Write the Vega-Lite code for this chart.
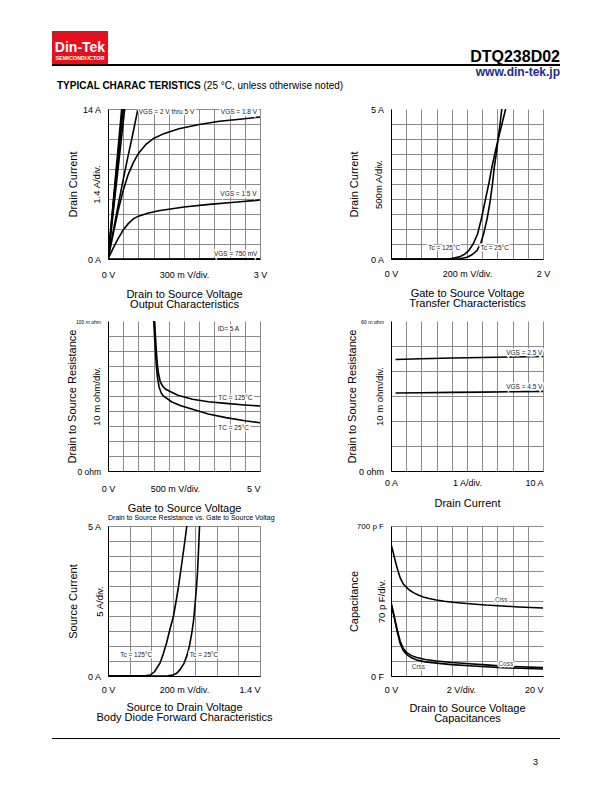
{
  "$schema": "https://vega.github.io/schema/vega-lite/v6.json",
  "background": "white",
  "padding": {"left": 52, "top": 31, "right": 0, "bottom": 0},
  "autosize": {"type": "pad"},
  "config": {
    "font": "Liberation Sans",
    "view": {"stroke": null},
    "axis": {"ticks": false, "tickSize": 0, "labelFont": "Liberation Sans", "labelFontSize": 9, "labelColor": "#000", "labelOverlap": false, "labelFlush": false, "labelPadding": 7.5, "titleFont": "Liberation Sans", "titleFontSize": 11, "titleFontWeight": "normal", "titleColor": "#000", "domainColor": "#000", "domainWidth": 1, "gridColor": "#8c8c8c", "gridWidth": 1, "gridOpacity": 1},
    "axisX": {"titleLineHeight": 10},
    "text": {"font": "Liberation Sans"}
  },
  "datasets": {
    "one": [{}],
    "c1": [
      {"s": "5V", "x": 0, "y": 0}, {"s": "5V", "x": 0.27, "y": 14},
      {"s": "4V", "x": 0, "y": 0}, {"s": "4V", "x": 0.285, "y": 14},
      {"s": "3V", "x": 0, "y": 0}, {"s": "3V", "x": 0.3, "y": 14},
      {"s": "2.5V", "x": 0, "y": 0}, {"s": "2.5V", "x": 0.33, "y": 14},
      {"s": "2V", "x": 0, "y": 0}, {"s": "2V", "x": 0.1, "y": 2.5}, {"s": "2V", "x": 0.2, "y": 5.0}, {"s": "2V", "x": 0.3, "y": 7.4}, {"s": "2V", "x": 0.4, "y": 9.7}, {"s": "2V", "x": 0.5, "y": 11.9}, {"s": "2V", "x": 0.59, "y": 14},
      {"s": "1.8V", "x": 0, "y": 0}, {"s": "1.8V", "x": 0.1, "y": 2.3}, {"s": "1.8V", "x": 0.2, "y": 4.5}, {"s": "1.8V", "x": 0.3, "y": 6.4}, {"s": "1.8V", "x": 0.4, "y": 7.9}, {"s": "1.8V", "x": 0.5, "y": 9.0}, {"s": "1.8V", "x": 0.6, "y": 9.85}, {"s": "1.8V", "x": 0.75, "y": 10.7}, {"s": "1.8V", "x": 0.9, "y": 11.25}, {"s": "1.8V", "x": 1.1, "y": 11.7}, {"s": "1.8V", "x": 1.4, "y": 12.15}, {"s": "1.8V", "x": 1.8, "y": 12.55}, {"s": "1.8V", "x": 2.2, "y": 12.85}, {"s": "1.8V", "x": 2.6, "y": 13.05}, {"s": "1.8V", "x": 3.0, "y": 13.25},
      {"s": "1.5V", "x": 0, "y": 0}, {"s": "1.5V", "x": 0.1, "y": 1.0}, {"s": "1.5V", "x": 0.2, "y": 1.9}, {"s": "1.5V", "x": 0.3, "y": 2.7}, {"s": "1.5V", "x": 0.4, "y": 3.3}, {"s": "1.5V", "x": 0.5, "y": 3.75}, {"s": "1.5V", "x": 0.6, "y": 4.0}, {"s": "1.5V", "x": 0.8, "y": 4.3}, {"s": "1.5V", "x": 1.0, "y": 4.5}, {"s": "1.5V", "x": 1.5, "y": 4.85}, {"s": "1.5V", "x": 2.0, "y": 5.1}, {"s": "1.5V", "x": 2.5, "y": 5.3}, {"s": "1.5V", "x": 3.0, "y": 5.5},
      {"s": "750mV", "x": 0, "y": 0}, {"s": "750mV", "x": 3, "y": 0.03}
    ],
    "c1t": [
      {"t": "VGS = 2 V thru 5 V", "x": 1.155, "y": 13.7},
      {"t": "VGS = 1.8 V", "x": 2.585, "y": 13.7},
      {"t": "VGS = 1.5 V", "x": 2.575, "y": 6.04},
      {"t": "VGS = 750 mV", "x": 2.52, "y": 0.44}
    ],
    "c2": [
      {"s": "125", "x": 0, "y": 0}, {"s": "125", "x": 0.7, "y": 0}, {"s": "125", "x": 0.78, "y": 0.01}, {"s": "125", "x": 0.9, "y": 0.07}, {"s": "125", "x": 0.97, "y": 0.16}, {"s": "125", "x": 1.022, "y": 0.28}, {"s": "125", "x": 1.08, "y": 0.5}, {"s": "125", "x": 1.14, "y": 0.84}, {"s": "125", "x": 1.19, "y": 1.35}, {"s": "125", "x": 1.241, "y": 1.96}, {"s": "125", "x": 1.29, "y": 2.55}, {"s": "125", "x": 1.329, "y": 3.08}, {"s": "125", "x": 1.37, "y": 3.55}, {"s": "125", "x": 1.408, "y": 3.97}, {"s": "125", "x": 1.46, "y": 4.5}, {"s": "125", "x": 1.513, "y": 5.05},
      {"s": "25", "x": 0, "y": 0}, {"s": "25", "x": 0.85, "y": 0}, {"s": "25", "x": 0.91, "y": 0.01}, {"s": "25", "x": 1.0, "y": 0.06}, {"s": "25", "x": 1.06, "y": 0.13}, {"s": "25", "x": 1.132, "y": 0.28}, {"s": "25", "x": 1.18, "y": 0.52}, {"s": "25", "x": 1.219, "y": 0.84}, {"s": "25", "x": 1.265, "y": 1.35}, {"s": "25", "x": 1.307, "y": 1.96}, {"s": "25", "x": 1.335, "y": 2.5}, {"s": "25", "x": 1.36, "y": 3.08}, {"s": "25", "x": 1.385, "y": 3.5}, {"s": "25", "x": 1.408, "y": 3.97}, {"s": "25", "x": 1.435, "y": 4.5}, {"s": "25", "x": 1.46, "y": 5.05}
    ],
    "c2t": [
      {"t": "Tc = 125°C", "x": 0.7, "y": 0.38},
      {"t": "Tc = 25°C", "x": 1.364, "y": 0.38}
    ],
    "c3": [
      {"s": "125", "x": 1.53, "y": 102}, {"s": "125", "x": 1.56, "y": 90}, {"s": "125", "x": 1.59, "y": 80}, {"s": "125", "x": 1.62, "y": 72}, {"s": "125", "x": 1.66, "y": 65}, {"s": "125", "x": 1.72, "y": 59.5}, {"s": "125", "x": 1.8, "y": 56.5}, {"s": "125", "x": 1.9, "y": 54.5}, {"s": "125", "x": 2.01, "y": 53.3}, {"s": "125", "x": 2.3, "y": 50.5}, {"s": "125", "x": 2.78, "y": 47.8}, {"s": "125", "x": 3.3, "y": 46.2}, {"s": "125", "x": 3.88, "y": 45.1}, {"s": "125", "x": 4.5, "y": 44}, {"s": "125", "x": 5, "y": 43.3},
      {"s": "25", "x": 1.5, "y": 102}, {"s": "25", "x": 1.53, "y": 90}, {"s": "25", "x": 1.56, "y": 80}, {"s": "25", "x": 1.59, "y": 70}, {"s": "25", "x": 1.63, "y": 62}, {"s": "25", "x": 1.68, "y": 56}, {"s": "25", "x": 1.75, "y": 52}, {"s": "25", "x": 1.82, "y": 50}, {"s": "25", "x": 1.9, "y": 48.9}, {"s": "25", "x": 2.1, "y": 46}, {"s": "25", "x": 2.4, "y": 43.5}, {"s": "25", "x": 2.78, "y": 41.1}, {"s": "25", "x": 3.3, "y": 38}, {"s": "25", "x": 3.88, "y": 35.6}, {"s": "25", "x": 4.5, "y": 33.5}, {"s": "25", "x": 5, "y": 32.2}
    ],
    "c3t": [
      {"t": "ID= 5 A", "x": 3.96, "y": 94.5},
      {"t": "TC = 125°C", "x": 4.19, "y": 48.9},
      {"t": "TC = 25°C", "x": 4.13, "y": 28.9}
    ],
    "c4": [
      {"s": "2.5", "x": 0.3, "y": 44.6}, {"s": "2.5", "x": 2, "y": 44.9}, {"s": "2.5", "x": 4, "y": 45.2}, {"s": "2.5", "x": 6, "y": 45.4}, {"s": "2.5", "x": 8, "y": 45.6}, {"s": "2.5", "x": 10, "y": 45.8},
      {"s": "4.5", "x": 0.3, "y": 31.2}, {"s": "4.5", "x": 2, "y": 31.3}, {"s": "4.5", "x": 4, "y": 31.45}, {"s": "4.5", "x": 6, "y": 31.55}, {"s": "4.5", "x": 8, "y": 31.7}, {"s": "4.5", "x": 10, "y": 31.85}
    ],
    "c4t": [
      {"t": "VGS = 2.5 V", "x": 8.77, "y": 47.2},
      {"t": "VGS = 4.5 V", "x": 8.77, "y": 33.7}
    ],
    "c5": [
      {"s": "125", "x": 0, "y": 0}, {"s": "125", "x": 0.2, "y": 0.005}, {"s": "125", "x": 0.35, "y": 0.015}, {"s": "125", "x": 0.39, "y": 0.03}, {"s": "125", "x": 0.43, "y": 0.15}, {"s": "125", "x": 0.48, "y": 0.44}, {"s": "125", "x": 0.51, "y": 0.75}, {"s": "125", "x": 0.54, "y": 1.11}, {"s": "125", "x": 0.57, "y": 1.55}, {"s": "125", "x": 0.603, "y": 2.0}, {"s": "125", "x": 0.63, "y": 2.55}, {"s": "125", "x": 0.65, "y": 3.0}, {"s": "125", "x": 0.67, "y": 3.5}, {"s": "125", "x": 0.689, "y": 4.0}, {"s": "125", "x": 0.708, "y": 4.5}, {"s": "125", "x": 0.726, "y": 5.0},
      {"s": "25", "x": 0, "y": 0}, {"s": "25", "x": 0.55, "y": 0.005}, {"s": "25", "x": 0.6, "y": 0.03}, {"s": "25", "x": 0.635, "y": 0.1}, {"s": "25", "x": 0.665, "y": 0.22}, {"s": "25", "x": 0.7, "y": 0.42}, {"s": "25", "x": 0.726, "y": 0.67}, {"s": "25", "x": 0.75, "y": 1.0}, {"s": "25", "x": 0.772, "y": 1.44}, {"s": "25", "x": 0.79, "y": 1.9}, {"s": "25", "x": 0.803, "y": 2.44}, {"s": "25", "x": 0.815, "y": 2.95}, {"s": "25", "x": 0.824, "y": 3.44}, {"s": "25", "x": 0.834, "y": 4.2}, {"s": "25", "x": 0.843, "y": 5.0}
    ],
    "c5t": [
      {"t": "Tc = 125°C", "x": 0.26, "y": 0.69},
      {"t": "Tc = 25°C", "x": 0.885, "y": 0.69}
    ],
    "c6": [
      {"s": "Ciss", "x": 0, "y": 615}, {"s": "Ciss", "x": 0.3, "y": 575}, {"s": "Ciss", "x": 0.56, "y": 537}, {"s": "Ciss", "x": 0.8, "y": 505}, {"s": "Ciss", "x": 1.2, "y": 459}, {"s": "Ciss", "x": 1.6, "y": 430}, {"s": "Ciss", "x": 2.08, "y": 412}, {"s": "Ciss", "x": 2.5, "y": 399}, {"s": "Ciss", "x": 2.95, "y": 389}, {"s": "Ciss", "x": 3.5, "y": 379}, {"s": "Ciss", "x": 4.25, "y": 369}, {"s": "Ciss", "x": 5, "y": 362}, {"s": "Ciss", "x": 5.97, "y": 355}, {"s": "Ciss", "x": 7, "y": 349}, {"s": "Ciss", "x": 8.1, "y": 344}, {"s": "Ciss", "x": 10.3, "y": 337}, {"s": "Ciss", "x": 12.5, "y": 331}, {"s": "Ciss", "x": 14.6, "y": 327}, {"s": "Ciss", "x": 16.8, "y": 322}, {"s": "Ciss", "x": 20, "y": 317},
      {"s": "Coss", "x": 0, "y": 345}, {"s": "Coss", "x": 0.3, "y": 298}, {"s": "Coss", "x": 0.56, "y": 257}, {"s": "Coss", "x": 0.8, "y": 218}, {"s": "Coss", "x": 1.2, "y": 163}, {"s": "Coss", "x": 1.6, "y": 130}, {"s": "Coss", "x": 2.08, "y": 109}, {"s": "Coss", "x": 2.7, "y": 95}, {"s": "Coss", "x": 3.4, "y": 86}, {"s": "Coss", "x": 4.5, "y": 77}, {"s": "Coss", "x": 6, "y": 70}, {"s": "Coss", "x": 8, "y": 63}, {"s": "Coss", "x": 10.3, "y": 57}, {"s": "Coss", "x": 12.5, "y": 52}, {"s": "Coss", "x": 14.6, "y": 47}, {"s": "Coss", "x": 17, "y": 43}, {"s": "Coss", "x": 20, "y": 39},
      {"s": "Crss", "x": 0, "y": 338}, {"s": "Crss", "x": 0.3, "y": 292}, {"s": "Crss", "x": 0.56, "y": 250}, {"s": "Crss", "x": 0.8, "y": 210}, {"s": "Crss", "x": 1.2, "y": 152}, {"s": "Crss", "x": 1.6, "y": 120}, {"s": "Crss", "x": 2.08, "y": 100}, {"s": "Crss", "x": 2.7, "y": 85}, {"s": "Crss", "x": 3.4, "y": 75}, {"s": "Crss", "x": 4.5, "y": 66}, {"s": "Crss", "x": 6, "y": 60}, {"s": "Crss", "x": 8, "y": 53}, {"s": "Crss", "x": 10.3, "y": 48}, {"s": "Crss", "x": 12.5, "y": 43}, {"s": "Crss", "x": 14.6, "y": 39}, {"s": "Crss", "x": 17, "y": 36}, {"s": "Crss", "x": 20, "y": 33}
    ],
    "c6t": [
      {"t": "Ciss", "x": 14.5, "y": 353},
      {"t": "Coss", "x": 15.1, "y": 57},
      {"t": "Crss", "x": 3.6, "y": 42}
    ]
  },
  "columns": 5,
  "spacing": 0,
  "bounds": "flush",
  "align": "each",
  "concat": [
    {"width": 56, "height": 33, "data": {"name": "one"}, "layer": [
      {"mark": {"type": "rect", "fill": "#e60f1e"}, "encoding": {}},
      {"mark": {"type": "text", "text": "Din-Tek", "fontWeight": "bold", "fontSize": 14, "fill": "#ffffff", "align": "center", "baseline": "alphabetic", "dy": 4.2}, "encoding": {}},
      {"mark": {"type": "text", "text": "SEMICONDUCTOR", "fontWeight": "bold", "fontSize": 5.5, "fill": "#ffffff", "align": "center", "baseline": "alphabetic", "dy": 12.5}, "encoding": {}}
    ]},
    {"width": 1, "height": 1, "mark": {"type": "rect", "opacity": 0}, "encoding": {}},
    {"width": 1, "height": 1, "mark": {"type": "rect", "opacity": 0}, "encoding": {}},
    {"width": 1, "height": 1, "mark": {"type": "rect", "opacity": 0}, "encoding": {}},
    {"width": 17, "height": 31, "data": {"name": "one"}, "mark": {"type": "text", "text": "DTQ238D02", "fontWeight": "bold", "fontSize": 16, "fill": "#000", "align": "right", "baseline": "alphabetic"}, "encoding": {"x": {"value": "width"}, "y": {"value": "height"}}},

    {"width": 56, "height": 2, "data": {"name": "one"}, "mark": {"type": "rect", "fill": "#000"}, "encoding": {}},
    {"width": 152, "height": 2, "data": {"name": "one"}, "mark": {"type": "rect", "fill": "#000"}, "encoding": {}},
    {"width": 131, "height": 2, "data": {"name": "one"}, "mark": {"type": "rect", "fill": "#000"}, "encoding": {}},
    {"width": 152, "height": 2, "data": {"name": "one"}, "mark": {"type": "rect", "fill": "#000"}, "encoding": {}},
    {"width": 17, "height": 2, "data": {"name": "one"}, "mark": {"type": "rect", "fill": "#000"}, "encoding": {}},

    {"width": 1, "height": 1, "mark": {"type": "rect", "opacity": 0}, "encoding": {}},
    {"width": 1, "height": 1, "mark": {"type": "rect", "opacity": 0}, "encoding": {}},
    {"width": 1, "height": 1, "mark": {"type": "rect", "opacity": 0}, "encoding": {}},
    {"width": 1, "height": 1, "mark": {"type": "rect", "opacity": 0}, "encoding": {}},
    {"width": 17, "height": 9.5, "data": {"name": "one"}, "mark": {"type": "text", "text": "www.din-tek.jp", "fontWeight": "bold", "fontSize": 12, "fill": "#1b2a8f", "align": "right", "baseline": "alphabetic"}, "encoding": {"x": {"value": "width"}, "y": {"value": "height"}}},

    {"width": 56, "height": 13, "data": {"name": "one"}, "layer": [
      {"mark": {"type": "text", "text": "TYPICAL CHARAC TERISTICS", "fontWeight": "bold", "fontSize": 10, "fill": "#000", "align": "left", "baseline": "alphabetic", "dx": 5}, "encoding": {"x": {"value": 0}, "y": {"value": "height"}}},
      {"mark": {"type": "text", "text": "(25 °C, unless otherwise noted)", "fontSize": 10, "fill": "#000", "align": "left", "baseline": "alphabetic", "dx": 151.5}, "encoding": {"x": {"value": 0}, "y": {"value": "height"}}}
    ]},
    {"width": 1, "height": 32.5, "mark": {"type": "rect", "opacity": 0}, "encoding": {}},
    {"width": 1, "height": 1, "mark": {"type": "rect", "opacity": 0}, "encoding": {}},
    {"width": 1, "height": 1, "mark": {"type": "rect", "opacity": 0}, "encoding": {}},
    {"width": 1, "height": 1, "mark": {"type": "rect", "opacity": 0}, "encoding": {}},

    {"width": 1, "height": 212, "mark": {"type": "rect", "opacity": 0}, "encoding": {}},
    {"width": 152, "height": 150,
      "resolve": {"axis": {"y": "independent"}},
      "encoding": {
        "x": {"field": "x", "type": "quantitative", "scale": {"domain": [0, 3], "nice": false, "zero": false},
          "axis": {"values": [0, 0.3, 0.6, 0.9, 1.2, 1.5, 1.8, 2.1, 2.4, 2.7, 3], "labelExpr": "datum.value === 0 ? '0 V' : datum.value === 1.5 ? '300 m V/div.' : datum.value === 3 ? '3 V' : ''", "labelPadding": 11, "labelOverlap": false, "labelFlush": false, "title": ["Drain to Source Voltage", "Output Characteristics"], "titleY": 29}},
        "y": {"field": "y", "type": "quantitative", "scale": {"domain": [0, 14], "nice": false, "zero": false},
          "axis": {"orient": "left", "values": [0, 1.4, 2.8, 4.2, 5.6, 7, 8.4, 9.8, 11.2, 12.6, 14], "labelExpr": "datum.value === 0 ? '0 A' : datum.value === 14 ? '14 A' : ''", "labelOverlap": false, "labelFlush": false, "title": "Drain Current", "titleX": -30}}
      },
      "layer": [
        {"data": {"name": "c1"}, "mark": {"type": "line", "color": "#000", "strokeWidth": 1.6, "clip": true}, "encoding": {"detail": {"field": "s"}}},
        {"data": {"name": "c1t"}, "mark": {"type": "text", "fontSize": 6.5, "stroke": "#ffffff", "strokeWidth": 3, "fill": "#ffffff"}, "encoding": {"text": {"field": "t"},
          "y": {"field": "y", "type": "quantitative", "scale": {"domain": [0, 14], "nice": false, "zero": false}, "axis": {"orient": "left", "labels": false, "grid": false, "domain": false, "ticks": false, "title": "1.4 A/div.", "titleFontSize": 9.5, "titleX": -6.6}}}},
        {"data": {"name": "c1t"}, "mark": {"type": "text", "fontSize": 6.5, "fill": "#222222"}, "encoding": {"text": {"field": "t"},
          "y": {"field": "y", "type": "quantitative", "scale": {"domain": [0, 14], "nice": false, "zero": false}, "axis": null}}}
      ]
    },
    {"width": 131, "height": 1, "mark": {"type": "rect", "opacity": 0}, "encoding": {}},
    {"width": 152, "height": 150,
      "resolve": {"axis": {"y": "independent"}},
      "encoding": {
        "x": {"field": "x", "type": "quantitative", "scale": {"domain": [0, 2], "nice": false, "zero": false},
          "axis": {"values": [0, 0.2, 0.4, 0.6, 0.8, 1, 1.2, 1.4, 1.6, 1.8, 2], "labelExpr": "datum.value === 0 ? '0 V' : datum.value === 1 ? '200 m V/div.' : datum.value === 2 ? '2 V' : ''", "labelPadding": 10.5, "labelOverlap": false, "labelFlush": false, "title": ["Gate to Source Voltage", "Transfer Characteristics"], "titleY": 28.7}},
        "y": {"field": "y", "type": "quantitative", "scale": {"domain": [0, 5], "nice": false, "zero": false},
          "axis": {"orient": "left", "values": [0, 0.5, 1, 1.5, 2, 2.5, 3, 3.5, 4, 4.5, 5], "labelExpr": "datum.value === 0 ? '0 A' : datum.value === 5 ? '5 A' : ''", "labelOverlap": false, "labelFlush": false, "title": "Drain Current", "titleX": -31.8,
            "gridColor": {"condition": {"test": "datum.value === 5", "value": "transparent"}, "value": "#8c8c8c"}}}
      },
      "layer": [
        {"data": {"name": "c2"}, "mark": {"type": "line", "color": "#000", "strokeWidth": 1.6, "clip": true}, "encoding": {"detail": {"field": "s"}}},
        {"data": {"name": "c2t"}, "mark": {"type": "text", "fontSize": 6.5, "stroke": "#ffffff", "strokeWidth": 3, "fill": "#ffffff"}, "encoding": {"text": {"field": "t"},
          "y": {"field": "y", "type": "quantitative", "scale": {"domain": [0, 5], "nice": false, "zero": false}, "axis": {"orient": "left", "labels": false, "grid": false, "domain": false, "ticks": false, "title": "500m A/div.", "titleFontSize": 9.5, "titleX": -8}}}},
        {"data": {"name": "c2t"}, "mark": {"type": "text", "fontSize": 6.5, "fill": "#222222"}, "encoding": {"text": {"field": "t"},
          "y": {"field": "y", "type": "quantitative", "scale": {"domain": [0, 5], "nice": false, "zero": false}, "axis": null}}}
      ]
    },
    {"width": 17, "height": 1, "mark": {"type": "rect", "opacity": 0}, "encoding": {}},

    {"width": 1, "height": 205, "mark": {"type": "rect", "opacity": 0}, "encoding": {}},
    {"width": 152, "height": 150,
      "resolve": {"axis": {"y": "independent"}},
      "title": {"text": "Drain to Source Resistance vs. Gate to Source Voltag", "orient": "bottom", "anchor": "start", "frame": "group", "fontSize": 7, "fontWeight": "normal", "color": "#000", "offset": 1},
      "encoding": {
        "x": {"field": "x", "type": "quantitative", "scale": {"domain": [0, 5], "nice": false, "zero": false},
          "axis": {"values": [0, 0.5, 1, 1.5, 2, 2.2, 2.5, 3, 3.5, 4, 4.5, 5], "labelExpr": "datum.value === 0 ? '0 V' : datum.value === 2.2 ? '500 m V/div.' : datum.value === 5 ? '5 V' : ''", "labelPadding": 13.8, "labelOverlap": false, "labelFlush": false, "title": "Gate to Source Voltage", "titleY": 31,
            "gridColor": {"condition": {"test": "datum.value === 2.2", "value": "transparent"}, "value": "#8c8c8c"},
            "labelAlign": {"condition": {"test": "datum.value === 5", "value": "right"}, "value": "center"}}},
        "y": {"field": "y", "type": "quantitative", "scale": {"domain": [0, 100], "nice": false, "zero": false},
          "axis": {"orient": "left", "values": [0, 10, 20, 30, 40, 50, 60, 70, 80, 90, 100], "labelExpr": "datum.value === 0 ? '0 ohm' : datum.value === 100 ? '100 m ohm' : ''", "labelOverlap": false, "labelFlush": false, "title": "Drain to Source Resistance", "titleX": -31,
            "labelFontSize": {"condition": {"test": "datum.value === 100", "value": 5}, "value": 8.5},
            "gridColor": {"condition": {"test": "datum.value === 100", "value": "transparent"}, "value": "#8c8c8c"}}}
      },
      "layer": [
        {"data": {"name": "c3"}, "mark": {"type": "line", "color": "#000", "strokeWidth": 1.6, "clip": true}, "encoding": {"detail": {"field": "s"}}},
        {"data": {"name": "c3t"}, "mark": {"type": "text", "fontSize": 6.5, "stroke": "#ffffff", "strokeWidth": 3, "fill": "#ffffff"}, "encoding": {"text": {"field": "t"},
          "y": {"field": "y", "type": "quantitative", "scale": {"domain": [0, 100], "nice": false, "zero": false}, "axis": {"orient": "left", "labels": false, "grid": false, "domain": false, "ticks": false, "title": "10 m ohm/div.", "titleFontSize": 9.5, "titleX": -6.9}}}},
        {"data": {"name": "c3t"}, "mark": {"type": "text", "fontSize": 6.5, "fill": "#222222"}, "encoding": {"text": {"field": "t"},
          "y": {"field": "y", "type": "quantitative", "scale": {"domain": [0, 100], "nice": false, "zero": false}, "axis": null}}}
      ]
    },
    {"width": 131, "height": 1, "mark": {"type": "rect", "opacity": 0}, "encoding": {}},
    {"width": 152, "height": 150,
      "resolve": {"axis": {"y": "independent"}},
      "encoding": {
        "x": {"field": "x", "type": "quantitative", "scale": {"domain": [0, 10], "nice": false, "zero": false},
          "axis": {"values": [0, 1, 2, 3, 4, 5, 6, 7, 8, 9, 10], "labelExpr": "datum.value === 0 ? '0 A' : datum.value === 5 ? '1 A/div.' : datum.value === 10 ? '10 A' : ''", "labelPadding": 7.8, "labelOverlap": false, "labelFlush": false, "title": "Drain Current", "titleY": 26,
            "labelAlign": {"condition": {"test": "datum.value === 10", "value": "right"}, "value": "center"}}},
        "y": {"field": "y", "type": "quantitative", "scale": {"domain": [0, 60], "nice": false, "zero": false},
          "axis": {"orient": "left", "values": [0, 10, 20, 30, 40, 50, 60], "labelExpr": "datum.value === 0 ? '0 ohm' : datum.value === 60 ? '60 m ohm' : ''", "labelOverlap": false, "labelFlush": false, "title": "Drain to Source Resistance", "titleX": -33.5,
            "labelFontSize": {"condition": {"test": "datum.value === 60", "value": 5.2}, "value": 9},
            "gridColor": {"condition": {"test": "datum.value === 60", "value": "transparent"}, "value": "#8c8c8c"}}}
      },
      "layer": [
        {"data": {"name": "c4"}, "mark": {"type": "line", "color": "#000", "strokeWidth": 1.6, "clip": true}, "encoding": {"detail": {"field": "s"}}},
        {"data": {"name": "c4t"}, "mark": {"type": "text", "fontSize": 6.5, "stroke": "#ffffff", "strokeWidth": 3, "fill": "#ffffff"}, "encoding": {"text": {"field": "t"},
          "y": {"field": "y", "type": "quantitative", "scale": {"domain": [0, 60], "nice": false, "zero": false}, "axis": {"orient": "left", "labels": false, "grid": false, "domain": false, "ticks": false, "title": "10 m ohm/div.", "titleFontSize": 9.5, "titleX": -6.3}}}},
        {"data": {"name": "c4t"}, "mark": {"type": "text", "fontSize": 6.5, "fill": "#222222"}, "encoding": {"text": {"field": "t"},
          "y": {"field": "y", "type": "quantitative", "scale": {"domain": [0, 60], "nice": false, "zero": false}, "axis": null}}}
      ]
    },
    {"width": 17, "height": 1, "mark": {"type": "rect", "opacity": 0}, "encoding": {}},

    {"width": 1, "height": 212, "mark": {"type": "rect", "opacity": 0}, "encoding": {}},
    {"width": 152, "height": 150,
      "resolve": {"axis": {"y": "independent"}},
      "encoding": {
        "x": {"field": "x", "type": "quantitative", "scale": {"domain": [0, 1.4], "nice": false, "zero": false},
          "axis": {"values": [0, 0.2, 0.4, 0.6, 0.7, 0.8, 1, 1.2, 1.4], "labelExpr": "datum.value === 0 ? '0 V' : datum.value === 0.7 ? '200 m V/div.' : datum.value === 1.4 ? '1.4 V' : ''", "labelPadding": 9.4, "labelOverlap": false, "labelFlush": false, "title": ["Source to Drain Voltage", "Body Diode Forward Characteristics"], "titleY": 25.3,
            "gridColor": {"condition": {"test": "datum.value === 0.7", "value": "transparent"}, "value": "#8c8c8c"},
            "labelAlign": {"condition": {"test": "datum.value === 1.4", "value": "right"}, "value": "center"}}},
        "y": {"field": "y", "type": "quantitative", "scale": {"domain": [0, 5], "nice": false, "zero": false},
          "axis": {"orient": "left", "values": [0, 0.5, 1, 1.5, 2, 2.5, 3, 3.5, 4, 4.5, 5], "labelExpr": "datum.value === 0 ? '0 A' : datum.value === 5 ? '5 A' : ''", "labelOverlap": false, "labelFlush": false, "title": "Source Current", "titleX": -29.8}}
      },
      "layer": [
        {"data": {"name": "c5"}, "mark": {"type": "line", "color": "#000", "strokeWidth": 1.6, "clip": true}, "encoding": {"detail": {"field": "s"}}},
        {"data": {"name": "c5t"}, "mark": {"type": "text", "fontSize": 6.5, "stroke": "#ffffff", "strokeWidth": 3, "fill": "#ffffff"}, "encoding": {"text": {"field": "t"},
          "y": {"field": "y", "type": "quantitative", "scale": {"domain": [0, 5], "nice": false, "zero": false}, "axis": {"orient": "left", "labels": false, "grid": false, "domain": false, "ticks": false, "title": "5  A/div.", "titleFontSize": 9.5, "titleX": -4}}}},
        {"data": {"name": "c5t"}, "mark": {"type": "text", "fontSize": 6.5, "fill": "#222222"}, "encoding": {"text": {"field": "t"},
          "y": {"field": "y", "type": "quantitative", "scale": {"domain": [0, 5], "nice": false, "zero": false}, "axis": null}}}
      ]
    },
    {"width": 131, "height": 1, "mark": {"type": "rect", "opacity": 0}, "encoding": {}},
    {"width": 152, "height": 150,
      "resolve": {"axis": {"y": "independent"}},
      "encoding": {
        "x": {"field": "x", "type": "quantitative", "scale": {"domain": [0, 20], "nice": false, "zero": false},
          "axis": {"values": [0, 2, 4, 6, 8, 9.2, 10, 12, 14, 16, 18, 20], "labelExpr": "datum.value === 0 ? '0 V' : datum.value === 9.2 ? '2 V/div.' : datum.value === 20 ? '20 V' : ''", "labelPadding": 9.4, "labelOverlap": false, "labelFlush": false, "title": ["Drain to Source Voltage", "Capacitances"], "titleY": 26,
            "gridColor": {"condition": {"test": "datum.value === 9.2 || datum.value === 20", "value": "transparent"}, "value": "#8c8c8c"},
            "labelAlign": {"condition": {"test": "datum.value === 20", "value": "right"}, "value": "center"}}},
        "y": {"field": "y", "type": "quantitative", "scale": {"domain": [0, 700], "nice": false, "zero": false},
          "axis": {"orient": "left", "values": [0, 70, 140, 210, 280, 350, 420, 490, 560, 630, 700], "labelExpr": "datum.value === 0 ? '0  F' : datum.value === 700 ? '700 p F' : ''", "labelOverlap": false, "labelFlush": false, "title": "Capacitance", "titleX": -31.4,
            "labelFontSize": {"condition": {"test": "datum.value === 700", "value": 8}, "value": 9}}}
      },
      "layer": [
        {"data": {"name": "c6"}, "mark": {"type": "line", "color": "#000", "strokeWidth": 1.6, "clip": true}, "encoding": {"detail": {"field": "s"}}},
        {"data": {"name": "c6t"}, "mark": {"type": "text", "fontSize": 6.5, "stroke": "#ffffff", "strokeWidth": 3, "fill": "#ffffff"}, "encoding": {"text": {"field": "t"},
          "y": {"field": "y", "type": "quantitative", "scale": {"domain": [0, 700], "nice": false, "zero": false}, "axis": {"orient": "left", "labels": false, "grid": false, "domain": false, "ticks": false, "title": "70 p F/div.", "titleFontSize": 9.5, "titleX": -4.6}}}},
        {"data": {"name": "c6t"}, "mark": {"type": "text", "fontSize": 6.5, "fill": "#444444"}, "encoding": {"text": {"field": "t"},
          "y": {"field": "y", "type": "quantitative", "scale": {"domain": [0, 700], "nice": false, "zero": false}, "axis": null}}}
      ]
    },
    {"width": 17, "height": 1, "mark": {"type": "rect", "opacity": 0}, "encoding": {}},

    {"width": 56, "height": 1, "data": {"name": "one"}, "mark": {"type": "rect", "fill": "#000"}, "encoding": {}},
    {"width": 152, "height": 1, "data": {"name": "one"}, "mark": {"type": "rect", "fill": "#000"}, "encoding": {}},
    {"width": 131, "height": 1, "data": {"name": "one"}, "mark": {"type": "rect", "fill": "#000"}, "encoding": {}},
    {"width": 152, "height": 1, "data": {"name": "one"}, "mark": {"type": "rect", "fill": "#000"}, "encoding": {}},
    {"width": 17, "height": 1, "data": {"name": "one"}, "mark": {"type": "rect", "fill": "#000"}, "encoding": {}},

    {"width": 1, "height": 1, "mark": {"type": "rect", "opacity": 0}, "encoding": {}},
    {"width": 1, "height": 1, "mark": {"type": "rect", "opacity": 0}, "encoding": {}},
    {"width": 1, "height": 1, "mark": {"type": "rect", "opacity": 0}, "encoding": {}},
    {"width": 152, "height": 26, "data": {"name": "one"}, "mark": {"type": "text", "text": "3", "fontSize": 9, "fill": "#000", "align": "right", "baseline": "alphabetic", "dx": -5}, "encoding": {"x": {"value": "width"}, "y": {"value": "height"}}},
    {"width": 1, "height": 1, "mark": {"type": "rect", "opacity": 0}, "encoding": {}}
  ]
}
